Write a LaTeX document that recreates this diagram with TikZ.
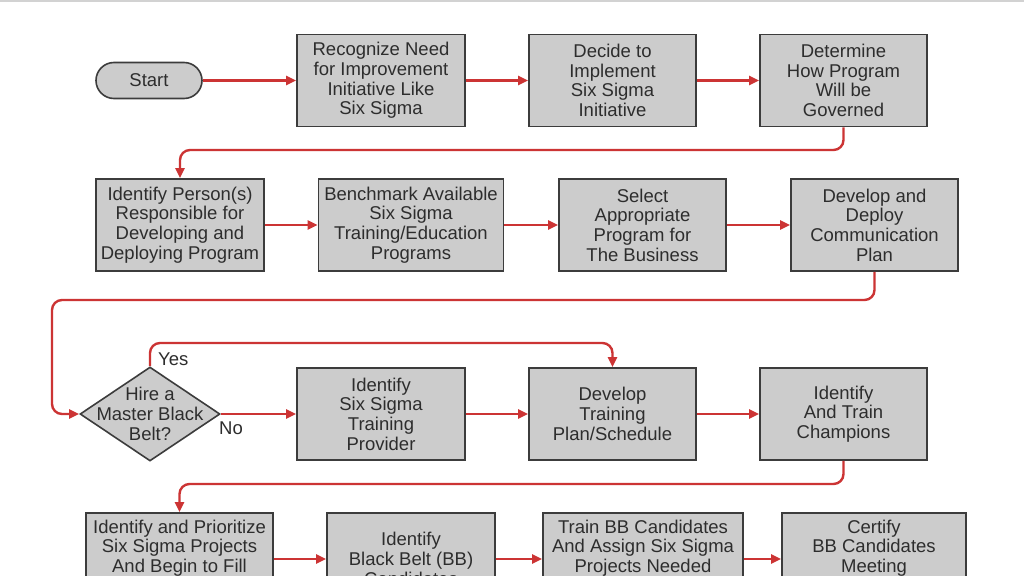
\documentclass[tikz,border=0pt]{standalone}
\usepackage{fontspec}
\setmainfont{Liberation Sans}
\usetikzlibrary{arrows.meta,shapes.geometric}
\definecolor{boxfill}{RGB}{204,204,204}
\definecolor{boxline}{RGB}{60,60,60}
\definecolor{txt}{RGB}{45,45,45}
\definecolor{flowred}{RGB}{204,52,52}
\definecolor{topline}{RGB}{210,210,210}
\tikzset{
  stepbox/.style={draw=boxline, line width=1.8pt, fill=boxfill, text=txt,
    minimum height=92pt, inner sep=0pt, align=center,
    font=\fontsize{18.5}{19.7}\selectfont},
  termbox/.style={draw=boxline, line width=1.6pt, fill=boxfill, text=txt,
    rounded corners=18pt, minimum width=106pt, minimum height=36pt, inner sep=0pt,
    font=\fontsize{18.5}{19.7}\selectfont},
  decbox/.style={diamond, draw=boxline, line width=1.6pt, fill=boxfill,
    minimum width=140pt, minimum height=94pt, inner sep=0pt},
  dectext/.style={text=txt, align=center, inner sep=0pt,
    font=\fontsize{18.5}{19.7}\selectfont},
  lbl/.style={text=txt, inner sep=0pt, font=\fontsize{18.5}{19.7}\selectfont},
  flow/.style={draw=flowred, line width=2.4pt, rounded corners=10pt,
    -{Triangle[length=10pt,width=9pt]}},
}
\begin{document}
\begin{tikzpicture}[x=1pt,y=-1pt]
\useasboundingbox (0,0) rectangle (1024,575);
\clip (0,0) rectangle (1024,575);
\fill[white] (0,0) rectangle (1024,575);
\draw[topline, line width=2pt] (0,1) -- (1024,1);

% row 1
\node[termbox] (start) at (149,80.5) {Start};
\node[stepbox, minimum width=168pt] (b1) at (381,80.5) {Recognize Need\\for Improvement\\Initiative Like\\Six Sigma};
\node[stepbox, minimum width=167pt] (b2) at (612.5,80.5) {Decide to\\Implement\\Six Sigma\\Initiative};
\node[stepbox, minimum width=167pt] (b3) at (843.5,80.5) {Determine\\How Program\\Will be\\Governed};

% row 2
\node[stepbox, minimum width=168pt] (b4) at (180,225) {Identify Person(s)\\Responsible for\\Developing and\\Deploying Program};
\node[stepbox, minimum width=185pt] (b5) at (411,225) {Benchmark Available\\Six Sigma\\Training/Education\\Programs};
\node[stepbox, minimum width=167pt] (b6) at (642.5,225) {Select\\Appropriate\\Program for\\The Business};
\node[stepbox, minimum width=167pt] (b7) at (874.5,225) {Develop and\\Deploy\\Communication\\Plan};

% row 3
\node[decbox] (dec) at (150,414) {};
\node[dectext] (dect) at (dec) {Hire a\\Master Black\\Belt?};
\node[stepbox, minimum width=168pt] (b8) at (381,414) {Identify\\Six Sigma\\Training\\Provider};
\node[stepbox, minimum width=167pt] (b9) at (612.5,414) {Develop\\Training\\Plan/Schedule};
\node[stepbox, minimum width=167pt] (b10) at (843.5,414) {Identify\\And Train\\Champions};

% row 4
\node[stepbox, minimum width=187pt] (b11) at (179.5,559) {Identify and Prioritize\\Six Sigma Projects\\And Begin to Fill\\\strut};
\node[stepbox, minimum width=168pt] (b12) at (411,559) {Identify\\Black Belt (BB)\\Candidates};
\node[stepbox, minimum width=200pt] (b13) at (643,559) {Train BB Candidates\\And Assign Six Sigma\\Projects Needed\\\strut};
\node[stepbox, minimum width=184pt] (b14) at (874,559) {Certify\\BB Candidates\\Meeting\\\strut};

% bend levels
\coordinate (r1) at (0,150);
\coordinate (r2) at (0,300);
\coordinate (r3) at (52,0);
\coordinate (r4) at (0,343);
\coordinate (r5) at (0,484);

% connectors
\draw[flow] (start) -- (b1);
\draw[flow] (b1) -- (b2);
\draw[flow] (b2) -- (b3);
\draw[flow] (b3.south) -- (b3.south |- r1) -- (b4.north |- r1) -- (b4.north);
\draw[flow] (b4) -- (b5);
\draw[flow] (b5) -- (b6);
\draw[flow] (b6) -- (b7);
\draw[flow] (b7.south) -- (b7.south |- r2) -- (r3 |- r2) -- (r3 |- dec.west) -- (dec.west);
\draw[flow] (dec.north) -- (dec.north |- r4) -- (b9.north |- r4) -- (b9.north);
\draw[flow] (dec.east) -- (b8.west);
\draw[flow] (b8) -- (b9);
\draw[flow] (b9) -- (b10);
\draw[flow] (b10.south) -- (b10.south |- r5) -- (b11.north |- r5) -- (b11.north);
\draw[flow] (b11) -- (b12);
\draw[flow] (b12) -- (b13);
\draw[flow] (b13) -- (b14);

% labels
\node[lbl, anchor=west] (yes) at (158,359) {Yes};
\node[lbl, anchor=west] (no) at (219,428) {No};
\end{tikzpicture}
\end{document}
